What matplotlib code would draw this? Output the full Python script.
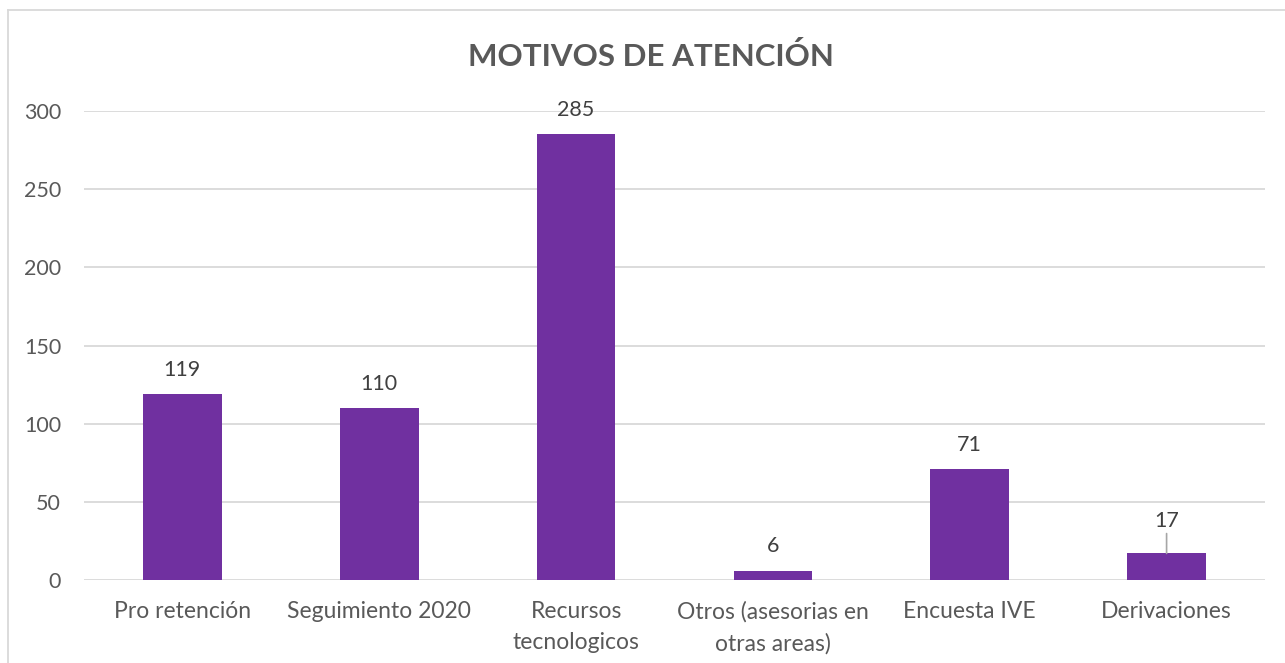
import matplotlib.pyplot as plt
import numpy as np

categories = ["Pro retención", "Seguimiento 2020", "Recursos\ntecnologicos",
              "Otros (asesorias en\notras areas)", "Encuesta IVE", "Derivaciones"]
values = [119, 110, 285, 6, 71, 17]
yticks = [0, 50, 100, 150, 200, 250, 300]

plt.rcParams['font.family'] = ['Lato', 'DejaVu Sans']

fig = plt.figure(figsize=(12.85, 6.63), dpi=100)
ax = fig.add_axes([84 / 1285, 1 - 580 / 663, (1265 - 84) / 1285, (580 - 111) / 663])

x = np.arange(len(categories))
bars = ax.bar(x, values, width=0.4, color='#7030A0', zorder=3)

ax.set_xlim(-0.5, len(categories) - 0.5)
ax.set_ylim(0, 300)
ax.set_yticks(yticks)
ax.set_xticks(x)
ax.set_xticklabels(categories, fontsize=16.5, color='#595959', linespacing=1.6)
ax.tick_params(axis='y', labelsize=15.5, labelcolor='#595959', length=0, pad=16.5)
ax.tick_params(axis='x', length=0, pad=15)
ax.grid(axis='y', color='#D9D9D9', linewidth=1.3, zorder=0)
for s in ax.spines.values():
    s.set_visible(False)

for xi, v in zip(x, values):
    if v == 17:
        # small label sits a bit higher, with a leader line down to the bar
        ax.annotate(str(v), xy=(xi, v), xytext=(0, 23.5), textcoords='offset points',
                    ha='center', va='center', fontsize=15.5, color='#404040',
                    arrowprops=dict(arrowstyle='-', color='#A6A6A6', lw=1.2,
                                    shrinkA=0, shrinkB=0))
    else:
        ax.annotate(str(v), xy=(xi, v), xytext=(0, 17.5), textcoords='offset points',
                    ha='center', va='center', fontsize=15.5, color='#404040')

fig.suptitle('MOTIVOS DE ATENCIÓN', x=651 / 1285, y=1 - 56 / 663, va='center',
             fontsize=22.5, fontweight='bold', color='#595959')

# light chart border (top and left visible)
fig.add_artist(plt.Line2D([8 / 1285, 8 / 1285], [0, 1 - 10 / 663], transform=fig.transFigure,
                          color='#D9D9D9', lw=1.3))
fig.add_artist(plt.Line2D([8 / 1285, 1], [1 - 10 / 663, 1 - 10 / 663], transform=fig.transFigure,
                          color='#D9D9D9', lw=1.3))

fig.savefig('out.png', dpi=100)
